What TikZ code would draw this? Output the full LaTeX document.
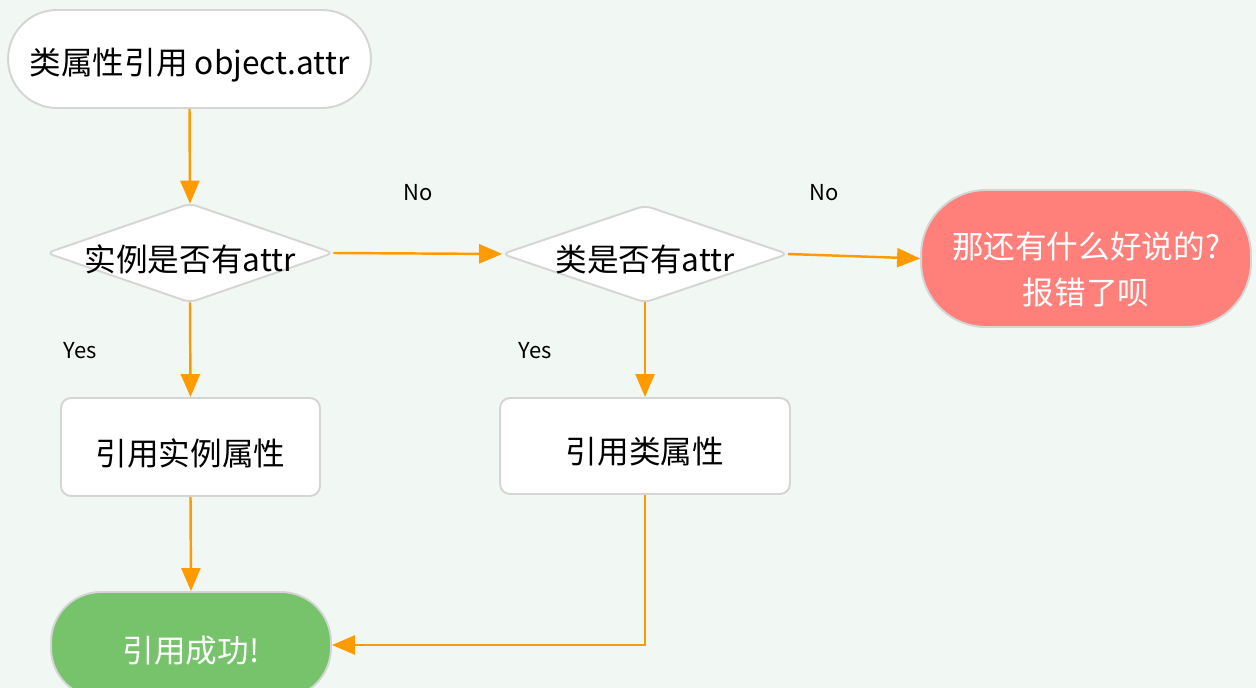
\documentclass[tikz,border=0pt]{standalone}
\usepackage{fontspec}
\setmainfont{Noto Sans CJK SC}
\usetikzlibrary{arrows.meta,backgrounds}
\definecolor{bgc}{HTML}{F1F7F3}
\definecolor{edgec}{HTML}{FF9A00}
\definecolor{bordc}{HTML}{D5D5D5}
\definecolor{redc}{HTML}{FF7F7A}
\definecolor{greenc}{HTML}{76C36B}
\tikzset{
  base/.style={draw=bordc, line width=1.1pt, inner sep=0pt},
  txt/.style={label={[inner sep=0pt, align=center, text=black, yshift=-0.12cm,
    font=\fontsize{18pt}{26.7pt}\selectfont]center:#1}},
  wtxt/.style={label={[inner sep=0pt, align=center, text=white, yshift=-0.12cm,
    font=\fontsize{18pt}{26.7pt}\selectfont]center:#1}},
  pill/.style={base, fill=white},
  boxn/.style={base, fill=white, rounded corners=0.2cm},
  dshape/.style={inner sep=0pt},
  dia/.style={draw=bordc, line width=1.1pt, fill=white, rounded corners=0.14cm},
  arr/.style={draw=edgec, line width=1.4pt, -{Triangle[length=0.46cm,width=0.38cm]}},
  lbl/.style={inner sep=0pt, text=black, font=\fontsize{12.5pt}{15pt}\selectfont}
}
\begin{document}
\begin{tikzpicture}[x=0.02cm,y=-0.02cm]
\useasboundingbox (0,0) rectangle (1256,688);
\clip (0,0) rectangle (1256,688);

\node[pill, minimum width=7.26cm, minimum height=1.96cm, rounded corners=0.98cm,
  txt={类属性引用 object.attr}] (start) at (189.5,59) {};
\node[dshape, minimum width=5.72cm, minimum height=1.96cm, txt={实例是否有attr}] (d1) at (190,253) {};
\node[dshape, minimum width=5.70cm, minimum height=1.92cm, txt={类是否有attr}] (d2) at (645,254) {};
\node[base, fill=redc, minimum width=6.6cm, minimum height=2.74cm, rounded corners=1.3cm,
  label={[inner sep=0pt, align=center, text=white, yshift=-0.22cm,
    font=\fontsize{18pt}{26.7pt}\selectfont]center:那还有什么好说的?\\报错了呗}] (red) at (1086,258.5) {};
\node[boxn, minimum width=5.18cm, minimum height=1.96cm, txt={引用实例属性}] (b1) at (190.5,447) {};
\node[boxn, minimum width=5.8cm, minimum height=1.92cm, txt={引用类属性}] (b2) at (645,446) {};
\node[base, fill=greenc, minimum width=5.6cm, minimum height=2.12cm, rounded corners=1.0cm,
  wtxt={引用成功!}] (green) at (191,645) {};

\node[lbl] (no1) at (418,193) {No};
\node[lbl] (no2) at (824,193) {No};
\node[lbl] (yes1) at (80,351) {Yes};
\node[lbl] (yes2) at (535,351) {Yes};

\begin{scope}[on background layer]
\fill[bgc] (0,0) rectangle (1256,688);
\draw[dia] (d1.west) -- (d1.north) -- (d1.east) -- (d1.south) -- cycle;
\draw[dia] (d2.west) -- (d2.north) -- (d2.east) -- (d2.south) -- cycle;
\end{scope}

\draw[arr] (start.south) -- (d1.north);
\draw[arr] (d1.east) -- (d2.west);
\draw[arr] (d2.east) -- (red.west);
\draw[arr] (d1.south) -- (b1.north);
\draw[arr] (d2.south) -- (b2.north);
\draw[arr] (b1.south) -- (green.north);
\draw[arr] (b2.south) |- (green.east);
\end{tikzpicture}
\end{document}
